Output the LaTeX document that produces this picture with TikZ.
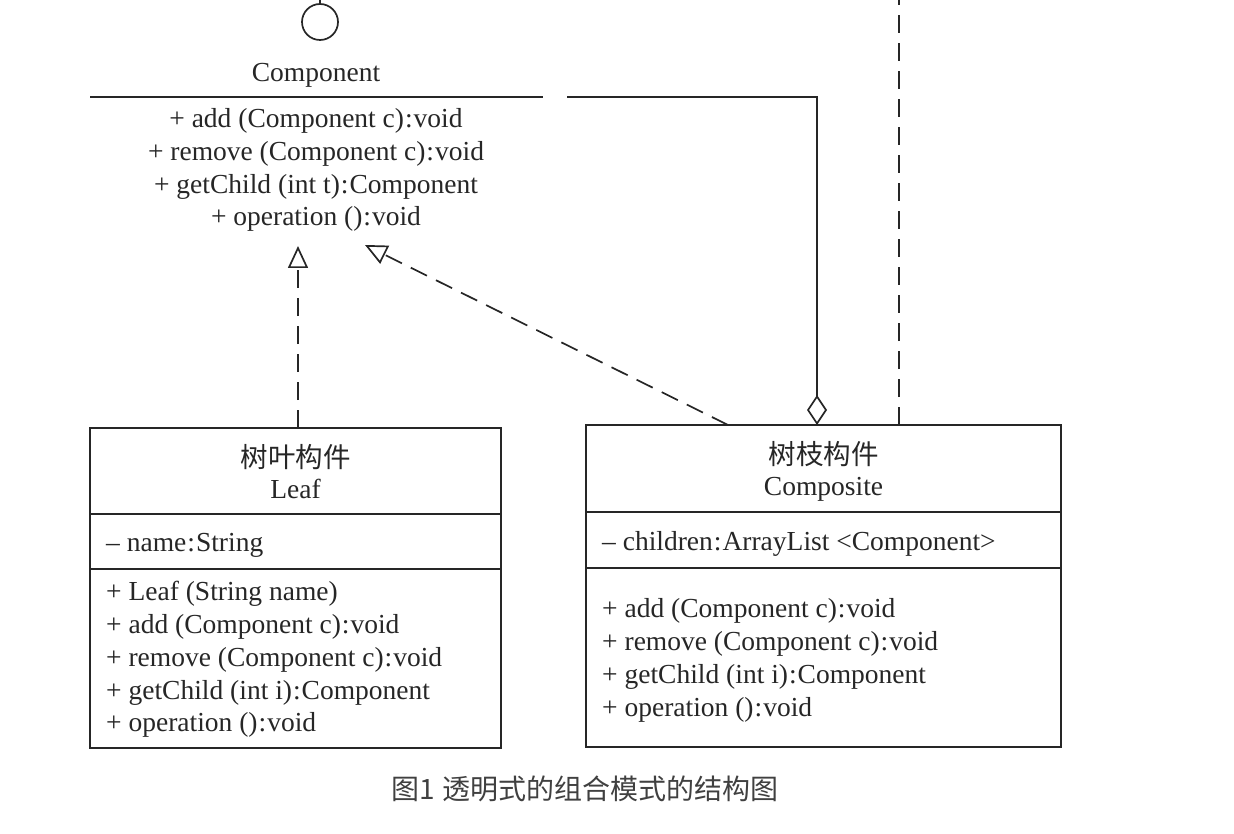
\documentclass[tikz,border=0pt]{standalone}
\usepackage{fontspec}
\setmainfont{Liberation Serif}
\newfontfamily\cjk{Noto Sans CJK SC}
\usetikzlibrary{arrows.meta}
\tikzset{
  line/.style={draw=black!85, line width=1.7pt},
  dashline/.style={line, dash pattern=on 18pt off 10pt},
  txt/.style={inner sep=0pt, font=\fontsize{27.5}{33}\selectfont, text=black!85, yshift=-10pt},
  ltxt/.style={txt, anchor=base west},
  ctxt/.style={txt, anchor=base},
  realize/.style={-{Triangle[open,length=22pt,width=20pt]}},
  box/.style={line, rectangle, inner sep=0pt}
}
\newcommand{\cl}{\kern1pt:\kern1pt}
\begin{document}
\begin{tikzpicture}[x=1pt,y=-1pt]
\useasboundingbox (0,0) rectangle (1234,834);
% Component (interface)
\node[line, circle, minimum size=36pt, inner sep=0pt] (lolli) at (320,22) {};
\coordinate (ltop) at (320,0);
\draw[line] (lolli.north) -- (ltop);
\node[ctxt] (cname) at (316,72) {Component};
\coordinate (hl1) at (90,97);
\coordinate (hl2) at (543,97);
\draw[line] (hl1) -- (hl2);
\node[ctxt] (cm1) at (316,118) {+ add (Component c)\cl void};
\node[ctxt] (cm2) at (316,151) {+ remove (Component c)\cl void};
\node[ctxt] (cm3) at (316,184) {+ getChild (int t)\cl Component};
\node[ctxt] (cm4) at (316,216) {+ operation ()\cl void};
% Leaf
\node[box, minimum width=411pt, minimum height=320pt] (leaf) at (295.5,588) {};
\draw[line] (90,514) -- (501,514);
\draw[line] (90,569) -- (501,569);
\node[ctxt] (lt1) at (295.5,457) {\cjk 树叶构件};
\node[ctxt] (lt2) at (295.5,488) {Leaf};
\node[ltxt] (la1) at (106,541) {– name\cl String};
\node[ltxt] (lm1) at (106,590) {+ Leaf (String name)};
\node[ltxt] (lm2) at (106,623) {+ add (Component c)\cl void};
\node[ltxt] (lm3) at (106,656) {+ remove (Component c)\cl void};
\node[ltxt] (lm4) at (106,689) {+ getChild (int i)\cl Component};
\node[ltxt] (lm5) at (106,721) {+ operation ()\cl void};
% Composite
\node[box, minimum width=475pt, minimum height=322pt] (comp) at (823.5,586) {};
\draw[line] (586,512) -- (1061,512);
\draw[line] (586,568) -- (1061,568);
\node[ctxt] (ct1) at (823.5,454) {\cjk 树枝构件};
\node[ctxt] (ct2) at (823.5,485) {Composite};
\node[ltxt] (ca1) at (602,540) {– children\cl ArrayList <Component>};
\node[ltxt] (cmm1) at (602,607) {+ add (Component c)\cl void};
\node[ltxt] (cmm2) at (602,640) {+ remove (Component c)\cl void};
\node[ltxt] (cmm3) at (602,673) {+ getChild (int i)\cl Component};
\node[ltxt] (cmm4) at (602,706) {+ operation ()\cl void};
% connectors
\coordinate (leaftop) at (298,428);
\coordinate (tip1) at (298,246);
\draw[dashline, realize] (leaftop) -- (tip1);
\coordinate (comptop) at (728,425);
\coordinate (tip2) at (365,245);
\draw[dashline, realize] (comptop) -- (tip2);
\coordinate (agg) at (817,425);
\coordinate (aggc) at (817,97);
\coordinate (aggl) at (567,97);
\draw[line, {Diamond[open,length=30pt,width=20pt]}-] (agg) -- (aggc) -- (aggl);
\coordinate (dv1) at (899,425);
\coordinate (dv2) at (899,0);
\draw[dashline] (dv1) -- (dv2);
% caption
\node[inner sep=0pt, font=\cjk\fontsize{28}{30}\selectfont, text=black!75] (cap) at (585,789) {图1\hspace{8pt}透明式的组合模式的结构图};
\end{tikzpicture}
\end{document}
